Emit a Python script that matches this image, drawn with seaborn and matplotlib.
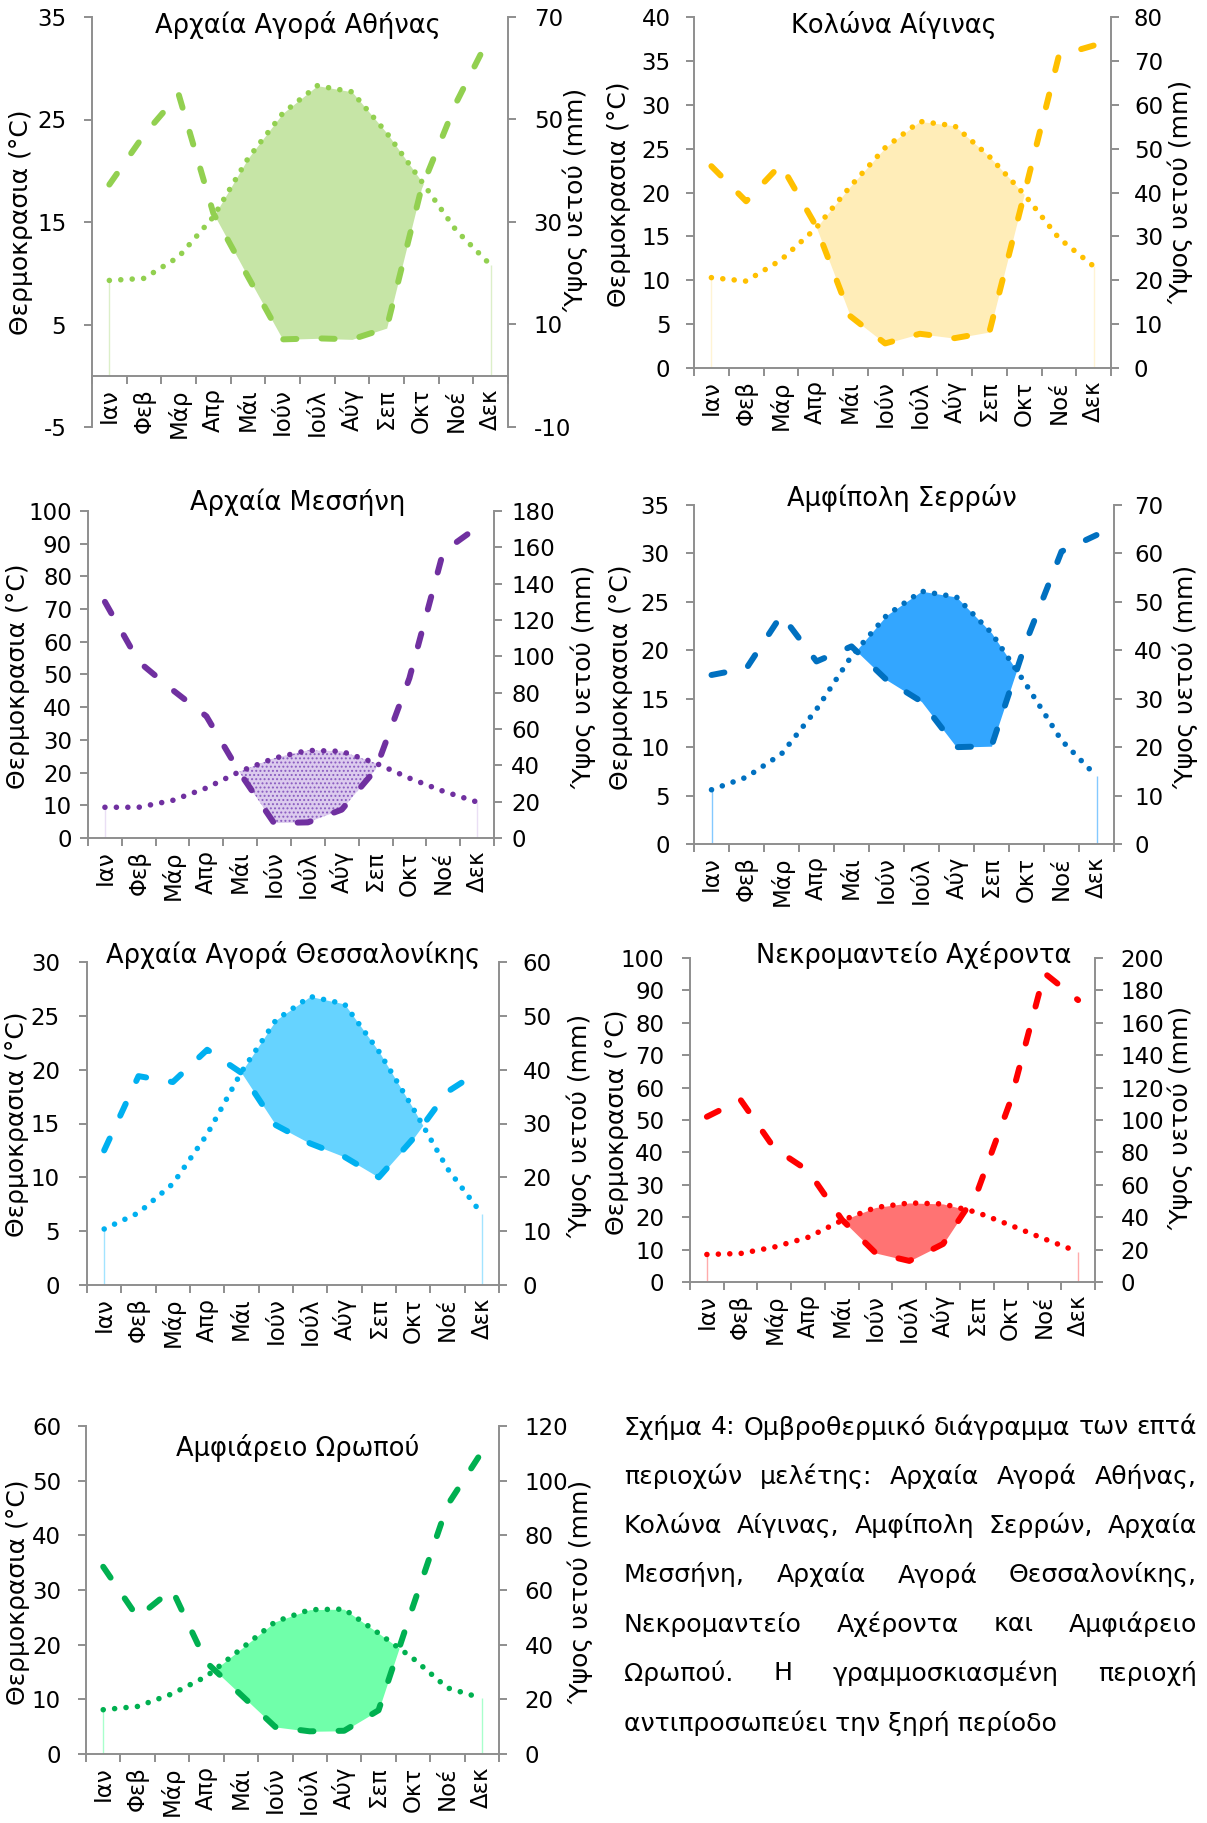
import matplotlib
matplotlib.use("Agg")
import matplotlib.pyplot as plt
import numpy as np
import pandas as pd
import seaborn as sns

# ---------------- data ----------------
months = ["Ιαν", "Φεβ", "Μάρ", "Απρ", "Μάι", "Ιούν", "Ιούλ", "Αύγ", "Σεπ", "Οκτ", "Νοέ", "Δεκ"]

athens_temp = [9.3, 9.5, 11.6, 15.5, 21.2, 25.6, 28.3, 27.7, 23.7, 19.0, 14.2, 10.8]
athens_rain = [37.3, 47.0, 54.9, 31.7, 19.3, 7.1, 7.3, 7.1, 9.3, 36.5, 53.2, 66.6]

aegina_temp = [10.3, 9.9, 12.3, 15.9, 20.7, 25.1, 28.1, 27.6, 24.1, 19.8, 14.8, 11.6]
aegina_rain = [46.0, 38.0, 46.4, 32.5, 11.8, 5.6, 7.8, 6.8, 8.2, 39.5, 71.2, 73.5]

messini_temp = [9.4, 9.4, 11.5, 15.3, 20.4, 24.4, 26.8, 26.5, 22.9, 18.3, 14.3, 11.0]
messini_rain = [130.0, 97.0, 81.5, 67.0, 35.5, 8.2, 8.6, 15.6, 37.6, 88.0, 157.6, 171.0]

amphipoli_temp = [5.6, 6.9, 9.3, 13.9, 19.4, 23.6, 26.1, 25.5, 21.8, 16.4, 10.7, 7.0]
amphipoli_rain = [34.9, 36.3, 47.3, 37.7, 40.8, 33.9, 29.4, 20.0, 20.2, 42.0, 60.4, 63.8]

thess_temp = [5.2, 6.7, 9.4, 14.0, 19.8, 24.6, 26.8, 26.1, 21.7, 16.4, 10.8, 6.6]
thess_rain = [25.0, 38.8, 37.7, 43.7, 39.4, 29.7, 26.3, 23.8, 20.0, 27.2, 35.9, 40.0]

necro_temp = [8.5, 8.8, 10.8, 13.8, 19.0, 23.0, 24.4, 24.1, 21.5, 17.5, 13.3, 9.3]
necro_rain = [102.0, 112.4, 82.5, 68.7, 38.5, 17.9, 13.0, 23.5, 55.0, 112.0, 190.7, 174.0]

oropos_temp = [8.1, 8.7, 11.0, 14.2, 19.2, 24.2, 26.4, 26.5, 22.1, 17.5, 12.1, 10.2]
oropos_rain = [68.5, 50.0, 60.2, 33.5, 21.7, 9.9, 8.3, 8.5, 16.0, 54.0, 91.0, 110.5]

titles = ["Αρχαία Αγορά Αθήνας", "Κολώνα Αίγινας", "Αρχαία Μεσσήνη", "Αμφίπολη Σερρών",
          "Αρχαία Αγορά Θεσσαλονίκης", "Νεκρομαντείο Αχέροντα", "Αμφιάρειο Ωρωπού"]

ylabel_left = "Θερμοκρασια (°C)"
ylabel_right = "Ύψος υετού (mm)"

caption_lines = [
    "Σχήμα 4: Ομβροθερμικό διάγραμμα των επτά",
    "περιοχών μελέτης: Αρχαία Αγορά Αθήνας,",
    "Κολώνα Αίγινας, Αμφίπολη Σερρών, Αρχαία",
    "Μεσσήνη, Αρχαία Αγορά Θεσσαλονίκης,",
    "Νεκρομαντείο Αχέροντα και Αμφιάρειο",
    "Ωρωπού. Η γραμμοσκιασμένη περιοχή",
    "αντιπροσωπεύει την ξηρή περίοδο",
]

# ---------------- styling / layout ----------------
sns.set_theme(style="ticks")
plt.rcParams['font.family'] = ['DejaVu Sans']
plt.rcParams['hatch.linewidth'] = 0.9

W, H = 1207, 1823
GRAY = "#8E8E8E"


def rect(L, R, T, B):
    return [L / W, 1 - B / H, (R - L) / W, (B - T) / H]


def fx(x):
    return x / W


def fy(y):
    return 1 - y / H


panels = [
    dict(temp=athens_temp, rain=athens_rain, box=(92, 508, 17, 427), tlim=(-5, 35), tstep=10,
         rstep=20, ratio=2, color="#92D050", fill="#C6E5A6", hatch=None, padl=13, padr=13,
         title_xy=(298, 25), lab_l=(21, 222), lab_r=(576, 200)),
    dict(temp=aegina_temp, rain=aegina_rain, box=(694, 1111, 17, 368), tlim=(0, 40), tstep=5,
         rstep=10, ratio=2, color="#FFC000", fill="#FFEDB8", hatch=None, padl=11.5, padr=11,
         title_xy=(894, 25), lab_l=(619, 194), lab_r=(1181, 192)),
    dict(temp=messini_temp, rain=messini_rain, box=(88, 494, 511, 838), tlim=(0, 100), tstep=10,
         rstep=20, ratio=1.8, color="#7030A0", fill="#DCCBEE", hatch="....", padl=6, padr=7,
         title_xy=(298, 502), lab_l=(18, 676), lab_r=(584, 677)),
    dict(temp=amphipoli_temp, rain=amphipoli_rain, box=(694, 1114, 505, 844), tlim=(0, 35), tstep=5,
         rstep=10, ratio=2, color="#0070C0", fill="#33A6FF", hatch=None, padl=12, padr=9,
         title_xy=(902, 498), lab_l=(621, 677), lab_r=(1186, 677)),
    dict(temp=thess_temp, rain=thess_rain, box=(87, 499, 962, 1285), tlim=(0, 30), tstep=5,
         rstep=10, ratio=2, color="#00B0F0", fill="#66D3FF", hatch=None, padl=14, padr=11.5,
         title_xy=(293, 955), lab_l=(17, 1124), lab_r=(580, 1126)),
    dict(temp=necro_temp, rain=necro_rain, box=(690, 1095, 958, 1282), tlim=(0, 100), tstep=10,
         rstep=20, ratio=2, color="#FF0000", fill="#FF7373", hatch=None, padl=13, padr=13,
         title_xy=(914, 955), lab_l=(617, 1122), lab_r=(1181, 1118)),
    dict(temp=oropos_temp, rain=oropos_rain, box=(86, 499, 1426, 1754), tlim=(0, 60), tstep=10,
         rstep=20, ratio=2, color="#00B050", fill="#70FFAA", hatch=None, padl=12.5, padr=13,
         title_xy=(298, 1448), lab_l=(18, 1592), lab_r=(581, 1592)),
]

fig = plt.figure(figsize=(W / 100, H / 100), dpi=100)
fig.patch.set_facecolor("white")

for p, title in zip(panels, titles):
    ax = fig.add_axes(rect(*p["box"]))
    ax2 = ax.twinx()
    df = pd.DataFrame({"m": np.arange(12), "temp": p["temp"], "rain": p["rain"]})
    scaled = df["rain"] / p["ratio"]

    # dry period fill
    if p["hatch"]:
        ax.fill_between(df["m"], df["temp"], scaled, where=df["temp"] >= scaled, interpolate=True,
                        facecolor=p["fill"], edgecolor="#8A5CC0", hatch=p["hatch"], lw=0, zorder=1)
    else:
        ax.fill_between(df["m"], df["temp"], scaled, where=df["temp"] >= scaled, interpolate=True,
                        facecolor=p["fill"], lw=0, zorder=1)
    ax.vlines([df["m"].iloc[0], df["m"].iloc[-1]], 0, [df["temp"].iloc[0], df["temp"].iloc[-1]],
              color=p["fill"], lw=1, alpha=0.6, zorder=1)

    sns.lineplot(data=df, x="m", y="temp", ax=ax, color=p["color"], lw=4,
                 linestyle=(0, (0.01, 2.05)), dash_capstyle="round", zorder=3)
    sns.lineplot(data=df, x="m", y="rain", ax=ax2, color=p["color"], lw=4.3,
                 linestyle=(0, (2.2, 4.2)), dash_capstyle="round", zorder=3)

    t0, t1 = p["tlim"]
    ax.set_ylim(t0, t1)
    ax2.set_ylim(t0 * p["ratio"], t1 * p["ratio"])
    ax.set_xlim(-0.5, 11.5)
    ax2.set_xlim(-0.5, 11.5)
    ax.set_xlabel("")
    ax.set_ylabel("")
    ax2.set_ylabel("")

    ax.set_yticks(np.arange(t0, t1 + 0.01, p["tstep"]))
    ax2.set_yticks(np.arange(t0 * p["ratio"], t1 * p["ratio"] + 0.01, p["rstep"]))
    ax.set_yticklabels([f"{v:g}" for v in ax.get_yticks()])
    ax2.set_yticklabels([f"{v:g}" for v in ax2.get_yticks()])

    ax.set_xticks(np.arange(12))
    ax.set_xticklabels(months)
    ax.set_xticks(np.arange(-0.5, 12, 1), minor=True)
    ax.tick_params(axis="x", which="major", length=0, pad=9, colors="black",
                   labelrotation=90, labelsize=16.5)
    ax.tick_params(axis="x", which="minor", length=5.5, width=1.4, color=GRAY, direction="out", bottom=True)
    ax.tick_params(axis="y", which="both", left=True, length=5.5, width=1.4, color=GRAY,
                   labelcolor="black", pad=p["padl"], direction="out", labelsize=16.5)
    ax2.tick_params(axis="y", which="both", right=True, length=5.5, width=1.4, color=GRAY,
                    labelcolor="black", pad=p["padr"], direction="out", labelsize=16.5)
    ax2.tick_params(axis="x", bottom=False, labelbottom=False)

    for a in (ax, ax2):
        for s in a.spines.values():
            s.set_visible(False)
            s.set_color(GRAY)
            s.set_linewidth(1.4)
    ax.spines["left"].set_visible(True)
    ax.spines["bottom"].set_visible(True)
    ax.spines["bottom"].set_position(("data", 0))
    ax2.spines["right"].set_visible(True)
    ax.set_facecolor("none")
    ax.grid(False)
    ax2.grid(False)

    fig.text(fx(p["title_xy"][0]), fy(p["title_xy"][1]), title, ha="center", va="center",
             fontsize=18.5, color="black")
    fig.text(fx(p["lab_l"][0]), fy(p["lab_l"][1]), ylabel_left, rotation=90, ha="center",
             va="center", fontsize=18, color="black")
    fig.text(fx(p["lab_r"][0]), fy(p["lab_r"][1]), ylabel_right, rotation=90, ha="center",
             va="center", fontsize=18, color="black")

# ---------------- justified caption ----------------
renderer = fig.canvas.get_renderer()
cap_left, cap_right = 624, 1197
cap_y0, cap_dy = 1427, 49.3
last_target = 434

# choose the caption size so the unjustified last line has the reference width
probe = fig.text(0, 0, caption_lines[-1], fontsize=17)
cap_fs = 17 * last_target / probe.get_window_extent(renderer).width
probe.remove()
# make sure the longest justified line still fits with reasonable spaces
probe = fig.text(0, 0, caption_lines[0], fontsize=cap_fs)
w0 = probe.get_window_extent(renderer).width
probe.remove()
if w0 > (cap_right - cap_left):
    cap_fs *= (cap_right - cap_left) / w0

for i, line in enumerate(caption_lines):
    y = fy(cap_y0 + i * cap_dy)
    if i == len(caption_lines) - 1:
        fig.text(fx(cap_left), y, line, ha="left", va="center", fontsize=cap_fs, color="black")
        continue
    words = line.split()
    tx = [fig.text(0, y, w, ha="left", va="center", fontsize=cap_fs, color="black") for w in words]
    widths = [t.get_window_extent(renderer).width for t in tx]
    gap = (cap_right - cap_left - sum(widths)) / (len(words) - 1)
    x = cap_left
    for t, w in zip(tx, widths):
        t.set_x(fx(x))
        x += w + gap

fig.savefig("out.png", dpi=100, facecolor="white")
